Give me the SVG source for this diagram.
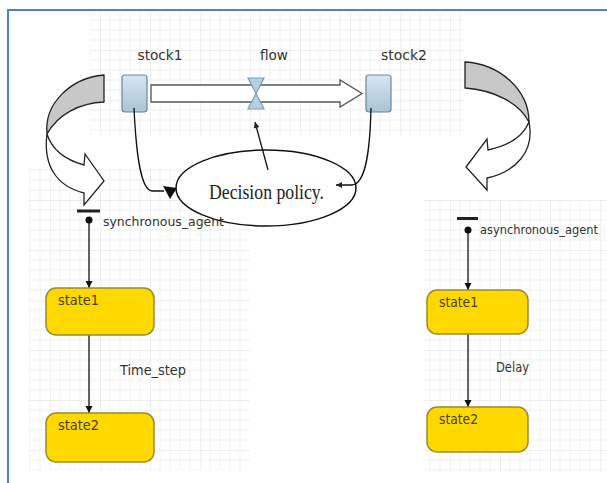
<svg xmlns="http://www.w3.org/2000/svg" width="607" height="483" viewBox="0 0 607 483">
<defs>
<pattern id="grid" width="50" height="50" patternUnits="userSpaceOnUse">
<path d="M10,0V50M20,0V50M30,0V50M40,0V50M0,10H50M0,20H50M0,30H50M0,40H50" stroke="#efefef" stroke-width="1" fill="none"/>
<path d="M0,0V50M0,0H50" stroke="#dcdcdc" stroke-width="1" fill="none"/>
</pattern>
<linearGradient id="stockg" x1="0" y1="0" x2="0" y2="1">
<stop offset="0" stop-color="#d6e6f1"/>
<stop offset="1" stop-color="#a9c4d6"/>
</linearGradient>
<marker id="ah" viewBox="0 0 10 10" refX="10" refY="5" markerWidth="7" markerHeight="9" orient="auto" markerUnits="userSpaceOnUse">
<path d="M0,0L10,5L0,10Z" fill="#111"/>
</marker>
<marker id="ahs" viewBox="0 0 10 10" refX="10" refY="5" markerWidth="10" markerHeight="6" orient="auto" markerUnits="userSpaceOnUse">
<path d="M0,0L10,5L0,10Z" fill="#222"/>
</marker>
</defs>
<style>
.lbl{font-family:"DejaVu Sans Condensed","DejaVu Sans",sans-serif;font-size:14px;fill:#333}
.ag{font-family:"DejaVu Sans Condensed","DejaVu Sans",sans-serif;font-size:11.5px;fill:#333}
.st{font-family:"DejaVu Sans Condensed","DejaVu Sans",sans-serif;font-size:14px;fill:#4a3f00}
.state{fill:#ffd800;stroke:#9c8a2e;stroke-width:1.5}
.stock{fill:url(#stockg);stroke:#6d8799;stroke-width:1.2}
.conn{fill:none;stroke:#111;stroke-width:1.3}
.big{stroke:#222;stroke-width:1.3}
</style>
<rect width="607" height="483" fill="#fff"/>
<g id="grids" opacity="0.9">
<rect x="90" y="10" width="374" height="125" fill="url(#grid)"/>
<rect x="29" y="168" width="221" height="302" fill="url(#grid)"/>
<rect x="424" y="200" width="183" height="272" fill="url(#grid)"/>
</g>
<path d="M8,483 V10 H607" fill="none" stroke="#4f81bd" stroke-width="2"/>

<g id="left-cycle-arrow">
<path class="big" fill="#c8c8c8" d="M104,75 L104,102 C80,103 58,114 47,134 C44,104 70,78 104,75 Z"/>
<path class="big" fill="#fff" d="M47,134 C43,165 56,186 84,193 L84,205 L104,181 L85,154 L84,165 C66,160 52,150 47,134 Z"/>
</g>
<g id="right-cycle-arrow">
<path class="big" fill="#c8c8c8" d="M465,62 L465,88 C494,90 519,103 529,122 C529,90 500,64 465,62 Z"/>
<path class="big" fill="#fff" d="M529,122 C535,152 515,172 487,178 L487,190 L466,167 L487,139 L488,150 C507,146 523,137 529,122 Z"/>
</g>

<g id="flow-pipe">
<path d="M151,85 H340 V80 L362,93.5 L340,107 V102 H151 Z" fill="#fff" stroke="#555" stroke-width="1.3"/>
</g>
<g id="stock1">
<rect class="stock" x="122" y="75" width="25" height="37" rx="3"/>
<text class="lbl" x="160" y="60" text-anchor="middle" textLength="45" lengthAdjust="spacingAndGlyphs">stock1</text>
</g>
<g id="stock2">
<rect class="stock" x="366" y="75" width="25" height="37" rx="3"/>
<text class="lbl" x="404" y="60" text-anchor="middle" textLength="46" lengthAdjust="spacingAndGlyphs">stock2</text>
</g>
<g id="flow">
<path d="M248,78 H264 L256,93.5 Z M248,109 H264 L256,93.5 Z" fill="#b6d0e1" stroke="#7f9db1" stroke-width="1.2"/>
<text class="lbl" x="274" y="60" text-anchor="middle" textLength="28" lengthAdjust="spacingAndGlyphs">flow</text>
</g>
<g id="decision-policy">
<ellipse cx="266" cy="188" rx="90" ry="38" fill="#fff" stroke="#111" stroke-width="1.5"/>
<text x="209" y="199" font-family="Liberation Serif, serif" font-size="20" fill="#222" textLength="115" lengthAdjust="spacingAndGlyphs">Decision policy.</text>
</g>

<g id="connectors">
<path class="conn" d="M134,108 C136,150 140,190 152,191 L164,191"/>
<path d="M163,186 L177,188 L170,199 Z" fill="#111"/>
<path class="conn" d="M371,108 C370,150 366,184 352,185 L336,185" marker-end="url(#ahs)"/>
<path class="conn" d="M268,170 L255,122" marker-end="url(#ahs)"/>
<path class="conn" d="M89,220 V288" marker-end="url(#ah)"/>
<path class="conn" d="M89,335 V413" marker-end="url(#ah)"/>
<path class="conn" d="M468,231 V290" marker-end="url(#ah)"/>
<path class="conn" d="M468,333 V407" marker-end="url(#ah)"/>
<text class="lbl" x="120" y="375" textLength="66" lengthAdjust="spacingAndGlyphs">Time_step</text>
<text class="lbl" x="496" y="372" textLength="33" lengthAdjust="spacingAndGlyphs">Delay</text>
</g>

<g id="synchronous_agent">
<rect x="77" y="209.5" width="23" height="3" fill="#222"/>
<circle cx="89" cy="220" r="3.5" fill="#111"/>
<text class="ag" x="103" y="226" textLength="121" lengthAdjust="spacingAndGlyphs">synchronous_agent</text>
</g>
<g id="sync-state1">
<rect class="state" x="46" y="288" width="108" height="47" rx="10"/>
<text class="st" x="58" y="305" textLength="41" lengthAdjust="spacingAndGlyphs">state1</text>
</g>
<g id="sync-state2">
<rect class="state" x="46" y="413" width="108" height="49" rx="10"/>
<text class="st" x="58" y="430" textLength="41" lengthAdjust="spacingAndGlyphs">state2</text>
</g>

<g id="asynchronous_agent">
<rect x="457" y="217" width="21" height="3" fill="#222"/>
<circle cx="468" cy="230" r="3.5" fill="#111"/>
<text class="ag" x="480" y="234" textLength="118" lengthAdjust="spacingAndGlyphs">asynchronous_agent</text>
</g>
<g id="async-state1">
<rect class="state" x="427" y="290" width="101" height="44" rx="10"/>
<text class="st" x="439" y="307" textLength="39" lengthAdjust="spacingAndGlyphs">state1</text>
</g>
<g id="async-state2">
<rect class="state" x="427" y="407" width="101" height="45" rx="10"/>
<text class="st" x="439" y="424" textLength="39" lengthAdjust="spacingAndGlyphs">state2</text>
</g>
</svg>
